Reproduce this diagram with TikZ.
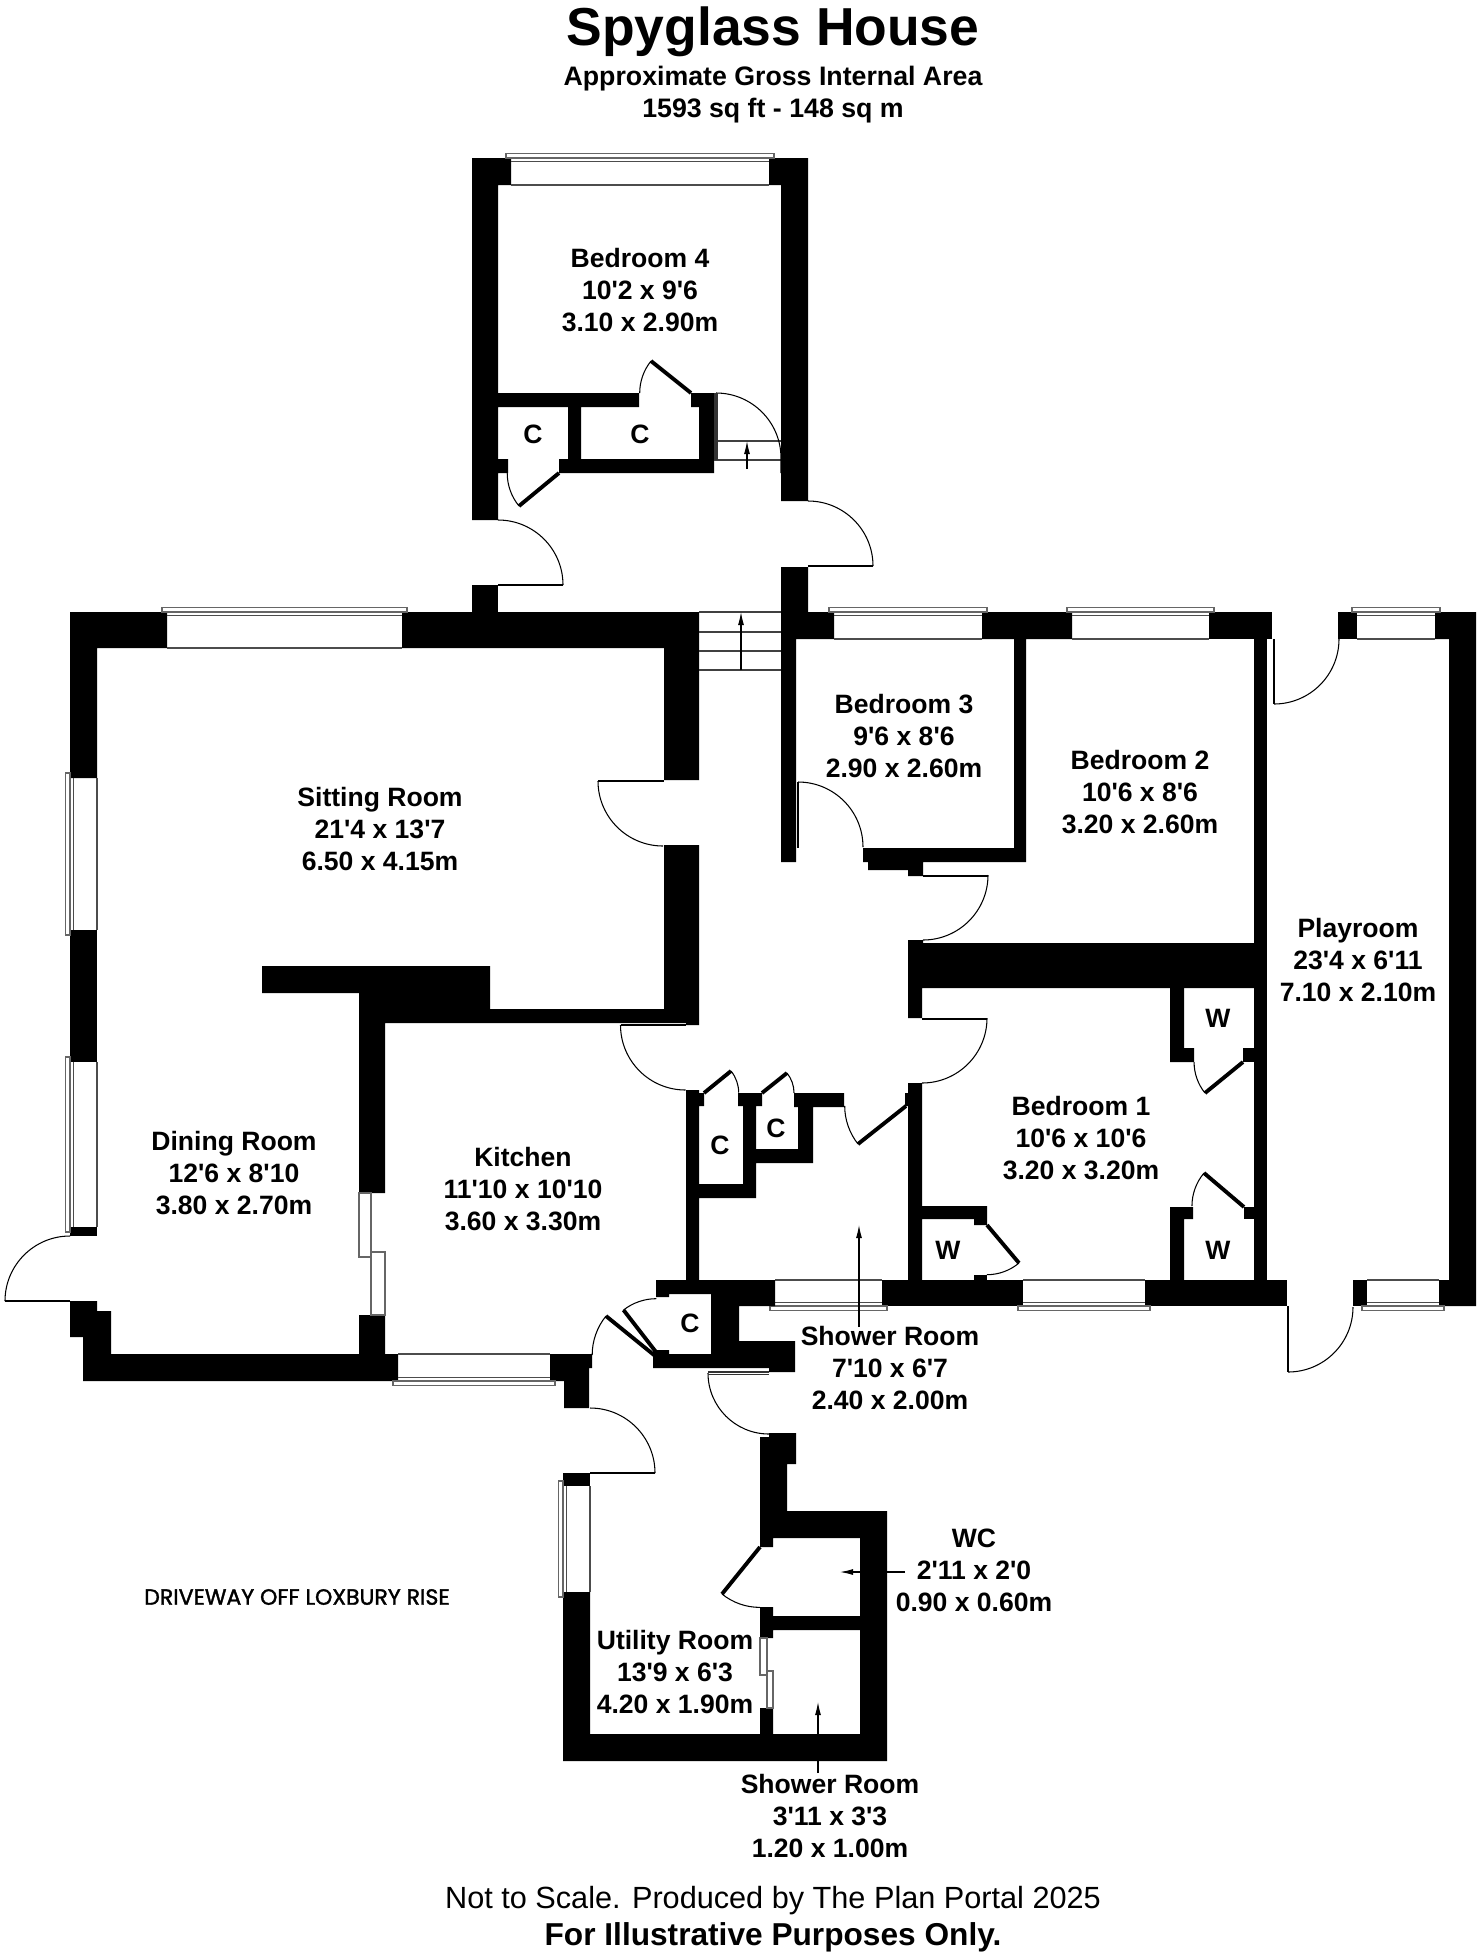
\documentclass[tikz,border=0pt]{standalone}
\usepackage{fontspec}
\setmainfont[Ligatures=TeXOff]{Liberation Sans}
\newfontfamily\drivefont[FakeBold=1.6]{Poppins}
\usetikzlibrary{arrows.meta}
\tikzset{
  wall/.style={fill=black,draw=none},
  swing/.style={draw=black,line width=0.3pt},
  leaf/.style={draw=black,line width=0.75pt},
  thinleaf/.style={draw=black!80,line width=0.3pt},
  closetleaf/.style={draw=black,line width=1.1pt},
  sill/.style={draw=black!60,line width=0.3pt},
  pane/.style={draw=black!70,line width=0.3pt},
  tread/.style={draw=black!75,line width=0.3pt},
  updir/.style={draw=black,line width=0.3pt,-{Latex[length=3.7pt,width=1.7pt]}},
  roomlabel/.style={font=\fontsize{7.55}{9.1}\selectfont\bfseries,align=center,inner sep=0pt},
  closetlabel/.style={font=\fontsize{7.55}{9.1}\selectfont\bfseries,inner sep=0pt}
}
% windows: from, to, inner face, outer face, outward sign
\newcommand{\hwindow}[5]{
  \draw[sill] ({#1-5},{#4+4.5*#5}) rectangle ({#2+5},#4);
  \draw[pane] (#1,{#4-3.5*#5}) -- (#2,{#4-3.5*#5});
  \draw[pane] (#1,#3) -- (#2,#3);
}
\newcommand{\vwindow}[5]{
  \draw[sill] ({#4+4.5*#5},{#1-5}) rectangle (#4,{#2+5});
  \draw[pane] ({#4-3.5*#5},#1) -- ({#4-3.5*#5},#2);
  \draw[pane] (#3,#1) -- (#3,#2);
}
\begin{document}
\begin{tikzpicture}[x=0.01cm,y=-0.01cm]
\useasboundingbox (0,0) rectangle (1480,1960);

% bedroom 4 wing
\fill[wall] (472,158) -- (511,158) -- (511,185) -- (498,185) -- (498,393) -- (639,393) -- (639,407) -- (581,407) -- (581,459) -- (699,459) -- (699,407) -- (691,407) -- (691,393) -- (714,393) -- (714,473) -- (559,473) -- (559,459) -- (568,459) -- (568,407) -- (498,407) -- (498,459) -- (508,459) -- (508,473) -- (498,473) -- (498,520) -- (472,520) -- cycle;
\fill[wall] (769,158) -- (808,158) -- (808,501) -- (781,501) -- (781,185) -- (769,185) -- cycle;
\fill[wall] (472,585) rectangle (498,612);
\hwindow{511}{769}{185}{158}{-1}

% sitting and dining room
\fill[wall] (70,612) -- (167,612) -- (167,648) -- (97,648) -- (97,778) -- (70,778) -- cycle;
\fill[wall] (402,612) -- (699,612) -- (699,780) -- (664,780) -- (664,648) -- (402,648) -- cycle;
\fill[wall] (70,930) rectangle (97,1062);
\fill[wall] (70,1227) rectangle (97,1236);
\fill[wall] (262,966) -- (490,966) -- (490,1009) -- (664,1009) -- (664,845) -- (699,845) -- (699,1025) -- (686,1025) -- (686,1023) -- (385,1023) -- (385,1193) -- (359,1193) -- (359,993) -- (262,993) -- cycle;
\fill[wall] (70,1301) -- (97,1301) -- (97,1311) -- (111,1311) -- (111,1354) -- (359,1354) -- (359,1315) -- (385,1315) -- (385,1354) -- (398,1354) -- (398,1381) -- (83,1381) -- (83,1337) -- (70,1337) -- cycle;
\fill[wall] (550,1354) -- (592,1354) -- (592,1368) -- (589,1368) -- (589,1408) -- (564,1408) -- (564,1381) -- (550,1381) -- cycle;
\hwindow{167}{402}{648}{612}{-1}
\vwindow{778}{930}{97}{70}{-1}
\vwindow{1062}{1227}{97}{70}{-1}
\hwindow{398}{550}{1354}{1381}{1}
\draw[sill] (359,1193) rectangle (371,1257);
\draw[sill] (371,1252) rectangle (385,1315);

% bedrooms 2 and 3
\fill[wall] (781,567) -- (808,567) -- (808,612) -- (834,612) -- (834,639) -- (796,639) -- (796,862) -- (781,862) -- cycle;
\fill[wall] (982,612) -- (1072,612) -- (1072,639) -- (1026,639) -- (1026,862) -- (923,862) -- (923,876) -- (908,876) -- (908,870) -- (868,870) -- (868,862) -- (863,862) -- (863,848) -- (1014,848) -- (1014,639) -- (982,639) -- cycle;
\fill[wall] (1209,612) rectangle (1272,639);
\fill[wall] (1254,639) rectangle (1267,1280);
\fill[wall] (908,940) -- (923,940) -- (923,943) -- (1254,943) -- (1254,988) -- (922,988) -- (922,1018) -- (908,1018) -- cycle;
\hwindow{834}{982}{639}{612}{-1}
\hwindow{1072}{1209}{639}{612}{-1}

% bedroom 1 and wardrobes
\fill[wall] (1170,988) -- (1184,988) -- (1184,1048) -- (1194,1048) -- (1194,1062) -- (1170,1062) -- cycle;
\fill[wall] (1243,1048) rectangle (1254,1062);
\fill[wall] (1170,1207) -- (1193,1207) -- (1193,1219) -- (1184,1219) -- (1184,1280) -- (1170,1280) -- cycle;
\fill[wall] (1244,1207) rectangle (1254,1219);
\fill[wall] (908,1083) -- (922,1083) -- (922,1206) -- (987,1206) -- (987,1225) -- (974,1225) -- (974,1219) -- (922,1219) -- (922,1280) -- (908,1280) -- (908,1106) -- (905,1106) -- (905,1093) -- (908,1093) -- cycle;
\fill[wall] (882,1280) rectangle (1023,1306);
\fill[wall] (1145,1280) rectangle (1287,1306);
\fill[wall] (974,1275) rectangle (987,1280);
\hwindow{775}{882}{1280}{1306}{1}
\hwindow{1023}{1145}{1280}{1306}{1}

% playroom
\fill[wall] (1338,612) rectangle (1357,639);
\fill[wall] (1435,612) -- (1476,612) -- (1476,1306) -- (1439,1306) -- (1439,1280) -- (1449,1280) -- (1449,639) -- (1435,639) -- cycle;
\fill[wall] (1353,1280) rectangle (1367,1306);
\hwindow{1357}{1435}{639}{612}{-1}
\hwindow{1367}{1439}{1280}{1306}{1}

% hall cupboards and shower room
\fill[wall] (686,1090) -- (699,1090) -- (699,1093) -- (704,1093) -- (704,1106) -- (699,1106) -- (699,1184) -- (743,1184) -- (743,1106) -- (738,1106) -- (738,1093) -- (762,1093) -- (762,1106) -- (756,1106) -- (756,1149) -- (798,1149) -- (798,1107) -- (794,1107) -- (794,1093) -- (844,1093) -- (844,1107) -- (813,1107) -- (813,1163) -- (756,1163) -- (756,1198) -- (699,1198) -- (699,1280) -- (686,1280) -- cycle;
\fill[wall] (656,1280) -- (775,1280) -- (775,1306) -- (739,1306) -- (739,1341) -- (795,1341) -- (795,1372) -- (769,1372) -- (769,1368) -- (653,1368) -- (653,1350) -- (669,1350) -- (669,1354) -- (711,1354) -- (711,1294) -- (669,1294) -- (669,1297) -- (656,1297) -- cycle;

% utility room, wc and small shower room
\fill[wall] (760,1437) -- (769,1437) -- (769,1433) -- (796,1433) -- (796,1464) -- (787,1464) -- (787,1511) -- (887,1511) -- (887,1761) -- (563,1761) -- (563,1592) -- (590,1592) -- (590,1734) -- (760,1734) -- (760,1708) -- (773,1708) -- (773,1734) -- (860,1734) -- (860,1630) -- (773,1630) -- (773,1638) -- (760,1638) -- (760,1607) -- (773,1607) -- (773,1616) -- (860,1616) -- (860,1538) -- (773,1538) -- (773,1547) -- (760,1547) -- cycle;
\fill[wall] (563,1473) rectangle (590,1486);
\vwindow{1486}{1592}{590}{563}{-1}
\draw[sill] (760,1638) rectangle (767,1675);
\draw[sill] (767,1671) rectangle (773,1708);

% stairs
\draw[tread] (714,441) -- (781,441);
\draw[tread] (714,460) -- (781,460);
\draw[tread] (699,612) -- (781,612);
\draw[tread] (699,632) -- (781,632);
\draw[tread] (699,651) -- (781,651);
\draw[tread] (699,670) -- (781,670);

% doors
\draw[swing] (808,501) arc (270:360:65);
\draw[leaf] (808,566) -- (873,566);
\draw[swing] (498,520) arc (270:360:65);
\draw[leaf] (498,585) -- (563,585);
\draw[swing] (716,393) arc (270:360:65) -- (781,473);
\draw[thinleaf] (715,393) -- (715,460);
\draw[thinleaf] (717,393) -- (717,460);
\draw[swing] (598,781) arc (180:90:65);
\draw[leaf] (598,781) -- (664,781);
\draw[swing] (70,1236) arc (270:180:65);
\draw[leaf] (5,1301) -- (70,1301);
\draw[swing] (620.5,1025) arc (180:90:65);
\draw[leaf] (620.5,1025) -- (686,1025);
\draw[swing] (798,782) arc (270:360:65);
\draw[leaf] (798,782) -- (798,848);
\draw[swing] (923,940) arc (90:0:65);
\draw[leaf] (923,876) -- (988,876);
\draw[swing] (922,1083) arc (90:0:65);
\draw[leaf] (922,1019) -- (987,1019);
\draw[swing] (1274,704) arc (90:0:65);
\draw[leaf] (1274,639) -- (1274,704);
\draw[swing] (1288,1372) arc (90:0:65);
\draw[leaf] (1288,1306) -- (1288,1372);
\draw[swing] (590,1408) arc (270:360:65);
\draw[leaf] (590,1473) -- (655,1473);
\draw[swing] (708,1373) arc (180:90:61);
\draw[thinleaf] (708,1372) -- (769,1372);
\draw[thinleaf] (708,1374.5) -- (769,1374.5);

% cupboard doors
\draw[closetleaf] (691,393) -- (651,361);
\draw[swing] (651,361) arc (218.7:180:51.5);
\draw[closetleaf] (559,473) -- (519,506);
\draw[swing] (519,506) arc (140.5:180:51.5);
\draw[closetleaf] (704,1093) -- (731,1071);
\draw[swing] (731,1071) arc (-39:0:34.5);
\draw[closetleaf] (762,1093) -- (787,1073);
\draw[swing] (787,1073) arc (-38.7:0:32);
\draw[closetleaf] (906,1106) -- (858,1144);
\draw[swing] (858,1144) arc (141.6:180:61.5);
\draw[closetleaf] (1243,1062) -- (1205,1093);
\draw[swing] (1205,1093) arc (141:180:49);
\draw[closetleaf] (1244,1207) -- (1204,1173);
\draw[swing] (1204,1173) arc (220:180:51.5);
\draw[closetleaf] (987,1225) -- (1019,1263);
\draw[swing] (1019,1263) arc (50:90:50);
\draw[closetleaf] (656,1352) -- (623.5,1310);
\draw[swing] (623.5,1310) arc (232:270:53.5);
\draw[closetleaf] (654,1355) -- (606,1316);
\draw[swing] (606,1316) arc (219:180:62);
\draw[closetleaf] (760,1547) -- (722,1594);
\draw[swing] (722,1594) arc (129:90:60);

% arrows
\coordinate (stairupfoot) at (747,469);
\coordinate (stairuptip) at (747,441);
\draw[updir] (stairupfoot) -- (stairuptip);
\coordinate (stairmainfoot) at (741,670);
\coordinate (stairmaintip) at (741,612);
\draw[updir] (stairmainfoot) -- (stairmaintip);
\coordinate (showerfoot) at (859,1327);
\coordinate (showertip) at (859,1225);
\draw[updir] (showerfoot) -- (showertip);
\coordinate (wcfoot) at (905,1572);
\coordinate (wctip) at (840,1572);
\draw[updir] (wcfoot) -- (wctip);
\coordinate (smallshowerfoot) at (818,1773);
\coordinate (smallshowertip) at (818,1702);
\draw[updir] (smallshowerfoot) -- (smallshowertip);

% labels
\node[font=\fontsize{15.2}{18}\selectfont\bfseries,inner sep=0pt] (title) at (773,32) {Spyglass House};
\node[font=\fontsize{7.6}{9.1}\selectfont\bfseries,align=center,inner sep=0pt] (area) at (773,94.5) {Approximate Gross Internal Area\\1593 sq ft - 148 sq m};
\node[roomlabel] (bedroomfour) at (640,290) {Bedroom 4\\10'2 x 9'6\\3.10 x 2.90m};
\node[roomlabel] (sittingroom) at (380,829) {Sitting Room\\21'4 x 13'7\\6.50 x 4.15m};
\node[roomlabel] (diningroom) at (234,1173) {Dining Room\\12'6 x 8'10\\3.80 x 2.70m};
\node[roomlabel] (kitchen) at (523,1189) {Kitchen\\11'10 x 10'10\\3.60 x 3.30m};
\node[roomlabel] (bedroomthree) at (904,736) {Bedroom 3\\9'6 x 8'6\\2.90 x 2.60m};
\node[roomlabel] (bedroomtwo) at (1140,792) {Bedroom 2\\10'6 x 8'6\\3.20 x 2.60m};
\node[roomlabel] (playroom) at (1358,960) {Playroom\\23'4 x 6'11\\7.10 x 2.10m};
\node[roomlabel] (bedroomone) at (1081,1138) {Bedroom 1\\10'6 x 10'6\\3.20 x 3.20m};
\node[roomlabel] (showerroom) at (890,1368) {Shower Room\\7'10 x 6'7\\2.40 x 2.00m};
\node[roomlabel] (utilityroom) at (675,1672) {Utility Room\\13'9 x 6'3\\4.20 x 1.90m};
\node[roomlabel] (wc) at (974,1570) {WC\\2'11 x 2'0\\0.90 x 0.60m};
\node[roomlabel] (smallshower) at (830,1816) {Shower Room\\3'11 x 3'3\\1.20 x 1.00m};
\node[closetlabel] (cupa) at (533,434) {C};
\node[closetlabel] (cupb) at (640,434) {C};
\node[closetlabel] (cupc) at (720,1145) {C};
\node[closetlabel] (cupd) at (776,1128) {C};
\node[closetlabel] (cupe) at (690,1323) {C};
\node[closetlabel] (warda) at (1218,1018) {W};
\node[closetlabel] (wardb) at (1218,1250) {W};
\node[closetlabel] (wardc) at (948,1250) {W};
\node[font=\drivefont\fontsize{6.27}{8}\selectfont,inner sep=0pt] (driveway) at (297,1597) {DRIVEWAY OFF LOXBURY RISE};
\node[font=\fontsize{8.72}{11}\selectfont,inner sep=0pt] (notscale) at (773,1901) {Not to Scale. Produced by The Plan Portal 2025};
\node[font=\fontsize{9.0}{11}\selectfont\bfseries,inner sep=0pt] (illustrative) at (773,1937.5) {For Illustrative Purposes Only.};
\end{tikzpicture}
\end{document}
